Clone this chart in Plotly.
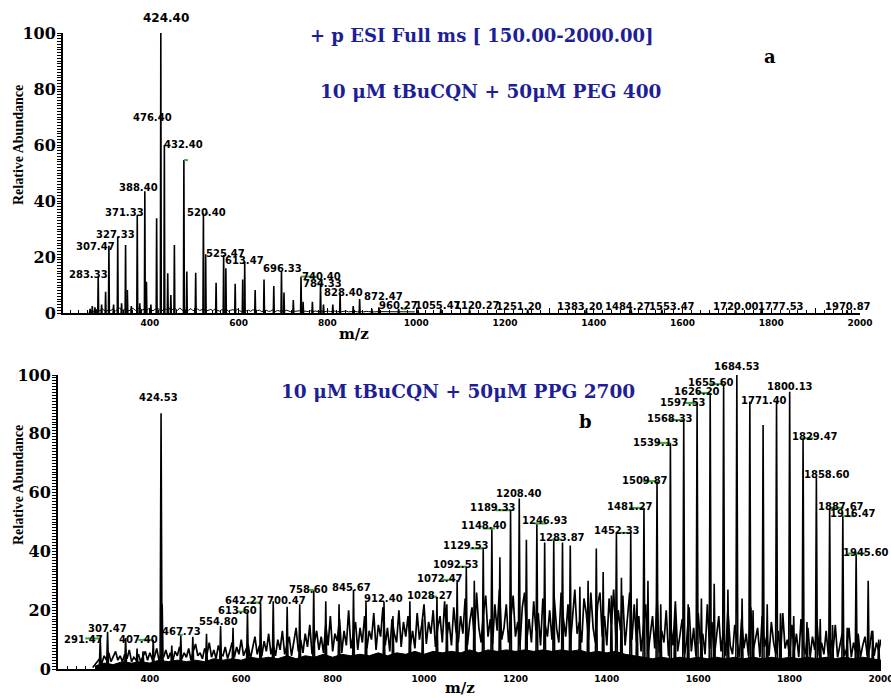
import plotly.graph_objects as go

# ---------------- Panel a : 10 uM tBuCQN + 50 uM PEG 400 ----------------
a_peak_mz = [265, 270, 276, 283.33, 291, 300, 307.47, 318, 327.33, 336, 345, 349,
             358, 371.33, 377, 388.40, 392, 402, 415, 424.40, 432.40, 440, 447,
             455, 476.40, 483, 503, 520.40, 525.47, 549, 566, 571, 592, 609,
             613.47, 637, 657, 679, 696.33, 702, 723, 740.40, 745, 766, 784.33,
             791, 812, 828.40, 858, 872.47, 900, 916, 960.27, 1004, 1055.47,
             1120.27, 1251.20, 1383.20, 1484.27, 1553.47, 1720.00, 1777.53, 1970.87]
a_peak_int = [1.5, 2.5, 2, 13, 3, 7.6, 24, 3, 27.3, 3.5, 24.3, 8.2,
              2.5, 35, 3.5, 43.5, 11.2, 3, 33.8, 100, 60, 14.2, 6.4,
              24.3, 54.6, 14.8, 14.4, 35.6, 21, 10.8, 20.7, 16, 10.4, 12,
              18.3, 8.2, 12, 9.6, 15, 7.3, 4.6, 13, 4, 4, 10.5,
              3, 3, 7, 2.5, 5, 1.5, 2, 1.5, 1.2, 1.5,
              1.3, 1.2, 1.2, 1.2, 1.2, 1.0, 1.0, 1.0]
a_noise_start = 262
a_noise_step = 5
a_noise = [0.3, 0.8, 0.5, 1.0, 1.4, 0.7, 1.6, 0.9, 0.6, 1.2,
           0.9, 1.5, 0.7, 1.3, 1.8, 0.8, 1.1, 1.6, 0.7, 1.1,
           1.7, 0.9, 1.3, 1.9, 1.0, 1.4, 0.7, 1.6, 1.1, 0.8,
           1.4, 1.8, 1.0, 0.7, 1.6, 1.2, 2.0, 0.9, 1.3, 1.5,
           0.9, 1.8, 1.1, 0.7, 1.4, 1.0, 1.6, 0.8, 1.2, 1.4,
           0.9, 1.1, 1.5, 0.7, 1.1, 1.3, 0.8, 1.6, 0.9, 0.7,
           1.2, 0.9, 1.4, 0.6, 1.0, 1.2, 0.7, 1.3, 0.8, 0.5,
           1.1, 0.8, 1.0, 0.6, 1.2, 0.7, 0.9, 1.0, 0.5, 0.8,
           1.0, 0.6, 0.7, 1.1, 0.5, 0.9, 0.7, 0.8, 0.5, 1.0,
           0.7, 0.5, 0.9, 0.6, 0.7, 0.8, 0.5, 0.7, 0.6, 0.5,
           0.8, 0.5, 0.7, 0.6, 0.5, 0.7, 0.4, 0.6, 0.7, 0.5,
           0.5, 0.7, 0.4, 0.6, 0.5, 0.5, 0.7, 0.4, 0.5, 0.5,
           0.6, 0.4, 0.5, 0.5, 0.4, 0.6, 0.5, 0.4, 0.5, 0.4,
           0.5, 0.5, 0.4, 0.5, 0.3, 0.5, 0.4, 0.5, 0.3, 0.4,
           0.5, 0.3, 0.4, 0.5, 0.3, 0.4, 0.3, 0.4]
a_label_mz = [424.40, 476.40, 432.40, 388.40, 371.33, 327.33, 307.47, 283.33,
              520.40, 525.47, 613.47, 696.33, 740.40, 784.33, 828.40, 872.47,
              960.27, 1055.47, 1120.27, 1251.20, 1383.20, 1484.27, 1553.47,
              1720.00, 1777.53, 1970.87]
a_green_mz = [476.40, 520.40, 740.40, 784.33, 960.27]

# ---------------- Panel b : 10 uM tBuCQN + 50 uM PPG 2700 ----------------
b_peak_mz = [291.47, 307.47, 347, 372, 385, 407.40, 424.53, 427, 448, 467.73,
             494, 524, 554.80, 582, 613.60, 642.27, 670, 700.47, 728, 758.60,
             785, 814, 845.67, 873, 912.40, 932, 969, 997, 1028.27, 1050,
             1072.47, 1092.53, 1110, 1129.53, 1148.40, 1166, 1189.33, 1208.40,
             1224, 1246.93, 1264, 1283.87, 1303, 1320, 1341, 1359, 1377, 1392,
             1410, 1421, 1432, 1452.33, 1466, 1481.27, 1490, 1509.87, 1518,
             1539.13, 1549, 1568.33, 1578, 1597.53, 1607, 1626.20, 1635,
             1655.60, 1665, 1684.53, 1696, 1713, 1720, 1742, 1751, 1771.40,
             1780, 1800.13, 1809, 1829.47, 1838, 1858.60, 1867, 1887.67, 1894,
             1916.47, 1926, 1945.60, 1950, 1972, 1982, 1995]
b_peak_int = [10.4, 12.7, 10.5, 7, 6, 9.9, 87, 22, 8, 11.6,
              11, 12, 14.6, 14, 19.5, 22.6, 23, 21.2, 22, 26.9,
              23, 22, 26.9, 23, 22.9, 18, 23, 17, 24.6, 22,
              30.3, 34.8, 30, 41, 47.8, 38, 54, 58,
              44, 49.5, 43, 44, 43, 42, 28, 30, 41, 33,
              25, 46, 31, 46.3, 24, 54.8, 30, 63.9, 22,
              76.9, 20, 84.7, 22, 90.5, 24, 93.9, 29,
              96.9, 27, 100, 24, 91, 20, 83, 22, 91,
              19, 94.3, 18, 78.5, 16, 65.2, 17, 54.8, 15,
              52, 14, 39.3, 9, 30, 13, 10]
b_noise_start = 275
b_noise_step = 5
b_noise = [0.5, 1.5, 2.5, 3.5, 2.0, 4.5, 3.0, 5.5, 2.5, 4.0, 6.0, 3.0, 4.5, 2.5, 5.0, 3.5, 6.5, 2.5, 4.0, 3.0,
           5.0, 2.5, 4.5, 6.0, 3.0, 5.5, 3.5, 4.0, 7.0, 3.0, 5.0, 4.0, 6.5, 3.5, 5.5, 2.5, 6.0, 4.5, 7.5, 3.5,
           5.5, 4.0, 7.0, 3.0, 6.0, 8.5, 4.5, 5.5, 3.5, 7.0, 5.0, 9.0, 4.0, 6.5, 3.5, 8.0, 5.0, 4.5, 7.5, 3.5,
           6.0, 9.0, 4.0, 7.5, 5.0, 10.0, 4.5, 6.5, 8.5, 3.5, 7.0, 11.0, 5.0, 8.0, 4.5, 9.5, 6.0, 12.0, 5.0, 8.0,
           4.5, 10.0, 6.5, 13.0, 5.0, 8.5, 11.0, 4.5, 9.0, 14.0, 6.0, 10.0, 5.5, 12.0, 7.5, 15.0, 5.0, 9.0, 13.0, 6.5,
           11.0, 5.5, 15.0, 8.0, 18.0, 6.0, 12.0, 9.5, 17.0, 5.5, 13.0, 8.0, 20.0, 7.0, 11.0, 16.0, 6.5, 14.0, 9.0, 18.0,
           7.0, 13.0, 10.0, 19.0, 6.5, 15.0, 11.0, 21.0, 8.0, 14.0, 6.0, 17.0, 12.0, 9.0, 20.0, 7.5, 16.0, 11.0, 18.0, 8.0,
           13.0, 7.0, 19.0, 10.0, 15.0, 22.0, 8.5, 16.0, 12.0, 20.0, 7.5, 14.0, 18.0, 9.0, 23.0, 11.0, 16.0, 8.0, 21.0, 13.0,
           9.0, 18.0, 12.0, 24.0, 8.0, 16.0, 21.0, 10.0, 26.0, 14.0, 9.0, 19.0, 25.0, 11.0, 17.0, 8.5, 22.0, 13.0, 27.0, 10.0,
           14.0, 22.0, 9.0, 18.0, 25.0, 11.0, 16.0, 8.0, 21.0, 26.0, 10.0, 17.0, 9.0, 23.0, 13.0, 19.0, 8.0, 24.0, 15.0, 11.0,
           20.0, 10.0, 24.0, 14.0, 9.0, 26.0, 17.0, 11.0, 22.0, 8.0, 19.0, 27.0, 12.0, 16.0, 9.0, 24.0, 19.0, 10.0, 26.0, 14.0,
           9.0, 22.0, 26.0, 11.0, 18.0, 8.0, 24.0, 15.0, 27.0, 10.0, 20.0, 13.0, 25.0, 8.0, 17.0, 26.0, 10.0, 22.0, 9.0, 18.0,
           6.0, 14.0, 22.0, 5.0, 11.0, 18.0, 7.0, 24.0, 5.5, 13.0, 9.0, 20.0, 4.5, 15.0, 8.0, 23.0, 6.0, 12.0, 17.0, 5.0,
           10.0, 21.0, 6.0, 14.0, 4.5, 19.0, 8.5, 12.0, 5.0, 22.0, 7.0, 16.0, 4.0, 11.0, 18.0, 6.0, 13.0, 4.5, 20.0, 8.0,
           5.0, 15.0, 9.0, 4.0, 17.0, 7.0, 12.0, 4.5, 21.0, 6.0, 10.0, 14.0, 4.0, 18.0, 7.5, 11.0, 4.5, 16.0, 9.0, 5.0,
           13.0, 4.0, 19.0, 7.0, 10.0, 4.5, 15.0, 6.0, 12.0, 4.0, 17.0, 8.0, 5.0, 14.0, 4.0, 11.0, 6.5, 16.0, 4.5, 9.0,
           5.0, 13.0, 4.0, 10.0, 6.0, 15.0, 4.0, 8.5, 12.0, 4.5, 7.0, 14.0, 4.0, 9.0, 5.5, 12.0, 4.0, 8.0, 11.0, 4.5,
           7.0, 13.0, 4.5, 9.0, 6.0, 10.0]
# dense lower part of the noise band (read every 20 m/z)
b_floor_start = 280
b_floor_step = 20
b_floor = [1.0, 2.0, 1.5, 2.5, 2.0, 2.5, 2.0, 3.0, 2.5, 3.0,
           2.5, 3.0, 2.5, 3.5, 3.0, 3.5, 3.0, 4.0, 3.5, 4.0,
           3.5, 4.5, 3.5, 4.5, 4.0, 5.0, 4.0, 5.0, 4.5, 5.0,
           4.5, 5.5, 4.5, 5.5, 5.0, 6.0, 5.0, 6.0, 5.5, 6.0,
           5.5, 6.5, 5.5, 6.5, 6.0, 6.5, 6.0, 6.5, 6.0, 6.5,
           6.0, 6.5, 6.0, 6.5, 5.5, 6.0, 5.5, 6.0, 5.0, 4.5,
           4.0, 3.5, 4.0, 3.5, 4.0, 3.5, 4.0, 3.5, 4.0, 3.5,
           4.0, 3.5, 4.0, 3.5, 4.0, 3.5, 4.0, 3.5, 4.0, 3.5,
           4.0, 3.5, 4.0, 3.5, 4.0, 3.5, 3.0]
b_label_mz = [291.47, 307.47, 407.40, 424.53, 467.73, 554.80, 613.60, 642.27,
              700.47, 758.60, 845.67, 912.40, 1028.27, 1072.47, 1092.53, 1129.53,
              1148.40, 1189.33, 1208.40, 1246.93, 1283.87, 1452.33, 1481.27,
              1509.87, 1539.13, 1568.33, 1597.53, 1626.20, 1655.60, 1684.53,
              1771.40, 1800.13, 1829.47, 1858.60, 1887.67, 1916.47, 1945.60]
b_green_mz = [291.47, 407.40, 467.73, 613.60, 642.27, 758.60, 1028.27, 1072.47,
              1092.53, 1129.53, 1148.40, 1189.33, 1246.93, 1283.87, 1452.33,
              1481.27, 1509.87, 1539.13, 1568.33, 1597.53, 1626.20, 1655.60,
              1829.47, 1887.67, 1916.47, 1945.60]

x_tick_vals = [300, 400, 500, 600, 700, 800, 900, 1000, 1100, 1200, 1300, 1400,
               1500, 1600, 1700, 1800, 1900, 2000]
x_tick_text = ["", "400", "", "600", "", "800", "", "1000", "", "1200", "", "1400",
               "", "1600", "", "1800", "", "2000"]
y_tick_vals = [0, 20, 40, 60, 80, 100]

# ---------------- styling (pixel offsets of labels / marks) ----------------
a_label_shift = {424.40: (5, 7), 476.40: (-31, 36), 432.40: (19, -6), 388.40: (-6, -3),
                 371.33: (-13, -4), 327.33: (-2, -4), 307.47: (-13, -7), 283.33: (-10, -4),
                 520.40: (3, -6), 525.47: (20, -6), 613.47: (0, -5), 696.33: (1, -4),
                 740.40: (20, -6), 784.33: (2, -6), 828.40: (3, -6), 872.47: (24, -4),
                 960.27: (0, -3), 1055.47: (-3, -3), 1120.27: (7, -3), 1251.20: (-9, -3),
                 1383.20: (-6, -3), 1484.27: (-3, -3), 1553.47: (10, -3), 1720.00: (0, -3),
                 1777.53: (20, -3), 1970.87: (1, -3)}
a_green_px = {476.40: (0, 4), 520.40: (2, 5), 740.40: (0, 17), 784.33: (-4, 2), 960.27: (3, 8)}
b_label_shift = {291.47: (-17, -8), 307.47: (0, -3), 407.40: (-15, -6), 424.53: (-3, 9),
                 467.73: (1, -3), 554.80: (-2, -2), 613.60: (-10, -5), 642.27: (-16, -4),
                 700.47: (-1, 0), 758.60: (-5, -6), 845.67: (-2, -4), 912.40: (-1, -3),
                 1028.27: (-7, -5), 1072.47: (-17, -5), 1092.53: (-10, -4), 1129.53: (-17, -4),
                 1148.40: (-8, -4), 1189.33: (-18, -4), 1208.40: (0, -2), 1246.93: (8, -4),
                 1283.87: (8, -4), 1452.33: (-14, -4), 1481.27: (-14, -5), 1509.87: (-12, -6),
                 1539.13: (-14, -6), 1568.33: (-14, -5), 1597.53: (-14, -6), 1626.20: (-13, -5),
                 1655.60: (-13, -5), 1684.53: (0, 2), 1771.40: (-13, -6), 1800.13: (0, -1),
                 1829.47: (12, -5), 1858.60: (11, -4), 1887.67: (11, -5), 1916.47: (10, -4),
                 1945.60: (10, -6)}
b_green_px = {291.47: (-15, 0), 407.40: (-15, -1), 467.73: (-3, 2), 613.60: (-10, 0),
              642.27: (-13, 0), 758.60: (-6, 0), 1028.27: (-7, 0), 1072.47: (-15, -2),
              1092.53: (-10, 0), 1129.53: (-13, 0), 1148.40: (-9, 3), 1189.33: (-15, 0),
              1246.93: (-2, 10), 1283.87: (-2, 8), 1452.33: (-14, -1), 1481.27: (-15, 0),
              1509.87: (-14, 0), 1539.13: (-15, 0), 1568.33: (-14, 0), 1597.53: (-14, 0),
              1626.20: (-13, 0), 1655.60: (-15, 0), 1829.47: (-1, 10), 1887.67: (0, 14),
              1916.47: (0, 12), 1945.60: (-8, 9)}

W, H = 891, 698
BLUE = "#1e1e96"
GREEN = "#3aa83a"
SERIF = "DejaVu Serif"
SANS = "DejaVu Sans"


def px(x):
    return x / W


def py(y):
    return 1 - y / H


def stick_path(mzs, ints, half):
    xs, ys = [], []
    for m, h in zip(mzs, ints):
        xs += [m - half, m, m + half, None]
        ys += [0, h, 0, None]
    return xs, ys


fig = go.Figure()

# solid lower part of the noise band in panel b
fx = [b_floor_start + i * b_floor_step for i in range(len(b_floor))]
fig.add_trace(go.Scatter(x=fx, y=b_floor, mode="lines", line=dict(color="black", width=1),
                         fill="tozeroy", fillcolor="black", xaxis="x2", yaxis="y2",
                         hoverinfo="skip", showlegend=False))

panels = [
    dict(xa="x", ya="y", peaks=(a_peak_mz, a_peak_int), noise=(a_noise_start, a_noise_step, a_noise),
         labels=a_label_mz, shifts=a_label_shift, greens=a_green_px, half=1.0, lw=1.6, nw=1.0),
    dict(xa="x2", ya="y2", peaks=(b_peak_mz, b_peak_int), noise=(b_noise_start, b_noise_step, b_noise),
         labels=b_label_mz, shifts=b_label_shift, greens=b_green_px, half=2.2, lw=1.6, nw=1.7),
]

annotations = []
shapes = []
for p in panels:
    start, step, vals = p["noise"]
    nx = [start + i * step for i in range(len(vals))]
    fig.add_trace(go.Scatter(x=nx, y=vals, mode="lines", line=dict(color="black", width=p["nw"]),
                             xaxis=p["xa"], yaxis=p["ya"], hoverinfo="skip", showlegend=False,
                             cliponaxis=False))
    sx, sy = stick_path(p["peaks"][0], p["peaks"][1], p["half"])
    fig.add_trace(go.Scatter(x=sx, y=sy, mode="lines", line=dict(color="black", width=p["lw"]),
                             xaxis=p["xa"], yaxis=p["ya"], hoverinfo="skip", showlegend=False,
                             cliponaxis=False))
    lookup = dict(zip(p["peaks"][0], p["peaks"][1]))
    for m in p["labels"]:
        dx, dy = p["shifts"][m]
        big = (m == 424.40)
        annotations.append(dict(
            x=m, y=lookup[m], xref=p["xa"], yref=p["ya"], text=f"{m:.2f}", showarrow=False,
            xanchor="center", yanchor="bottom", xshift=dx, yshift=dy,
            font=dict(family=SANS, size=12 if big else 10, color="black", weight="bold"),
            borderpad=0))
    for m, (g0, g1) in p["greens"].items():
        shapes.append(dict(type="line", xref=p["xa"], yref=p["ya"], xsizemode="pixel",
                           xanchor=m, x0=g0, x1=g1, y0=lookup[m], y1=lookup[m],
                           line=dict(color=GREEN, width=2), layer="above"))

# texts
texts = [
    ("+ p ESI Full ms [ 150.00-2000.00]", 482, 35, 18, BLUE, SERIF),
    ("10 \u03bcM tBuCQN + 50\u03bcM PEG 400", 490, 92, 18.5, BLUE, SERIF),
    ("a", 770, 56, 18, "black", SERIF),
    ("10 \u03bcM tBuCQN + 50\u03bcM PPG 2700", 458, 391, 18.5, BLUE, SERIF),
    ("b", 585, 421, 18, "black", SERIF),
    ("m/z", 354, 334, 15, "black", SERIF),
    ("m/z", 460, 688, 15, "black", SERIF),
]
for t, x, y, s, c, f in texts:
    annotations.append(dict(x=px(x), y=py(y), xref="paper", yref="paper", text=t,
                            showarrow=False, xanchor="center", yanchor="middle",
                            font=dict(family=f, size=s, color=c, weight="bold")))
for yc in (145, 485):
    annotations.append(dict(x=px(18), y=py(yc), xref="paper", yref="paper",
                            text="Relative Abundance", showarrow=False, textangle=-90,
                            xanchor="center", yanchor="middle",
                            font=dict(family="Liberation Serif", size=14, color="black",
                                      weight="bold")))

xaxis_common = dict(showline=True, linecolor="black", linewidth=2, ticks="inside",
                    tickcolor="black", ticklen=5, tickwidth=1, showgrid=False, zeroline=False,
                    tickmode="array", tickvals=x_tick_vals, ticktext=x_tick_text,
                    tickfont=dict(family=SANS, size=9, color="black", weight="bold"),
                    ticklabeloverflow="allow",
                    minor=dict(ticks="inside", dtick=20, ticklen=3, tickcolor="black",
                               tickwidth=1, showgrid=False),
                    automargin=False, fixedrange=True)
yaxis_common = dict(showline=True, linecolor="black", linewidth=2, ticks="outside",
                    tickcolor="black", ticklen=2, tickwidth=1, showgrid=False, zeroline=False,
                    range=[0, 100], tickmode="array", tickvals=y_tick_vals,
                    tickfont=dict(family=SERIF, size=16, color="black", weight="bold"),
                    minor=dict(ticks="outside", dtick=1, ticklen=4, tickcolor="black",
                               tickwidth=1, showgrid=False),
                    automargin=False, fixedrange=True)

fig.update_layout(
    width=W, height=H, margin=dict(l=0, r=0, t=0, b=0, pad=0, autoexpand=False),
    paper_bgcolor="white", plot_bgcolor="white", showlegend=False,
    xaxis=dict(xaxis_common, domain=[px(63), px(860)], range=[204, 2000], anchor="y"),
    yaxis=dict(yaxis_common, domain=[py(313), py(33)], anchor="x"),
    xaxis2=dict(xaxis_common, domain=[px(58), px(881)], range=[199, 2000], anchor="y2"),
    yaxis2=dict(yaxis_common, domain=[py(669), py(375)], anchor="x2"),
    annotations=annotations,
    shapes=shapes,
)

page_fix = (
    "document.documentElement.style.margin='0';"
    "document.documentElement.style.overflow='hidden';"
    "document.body.style.margin='0';"
    "document.body.style.overflow='hidden';"
    "var gd=document.getElementById('{plot_id}');"
    "gd.style.position='fixed';gd.style.left='0px';gd.style.top='0px';"
)
fig.write_html("out.html", config={"displayModeBar": False, "staticPlot": True},
               post_script=page_fix)
